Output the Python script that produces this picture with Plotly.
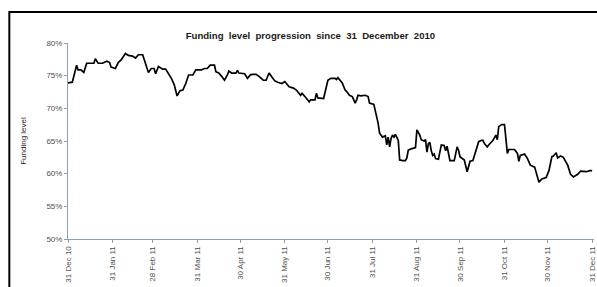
import datetime as dt
import plotly.graph_objects as go

# ---- data ----
start_date = dt.date(2010, 12, 31)
day_offsets = [
    0, 3, 6, 7, 9, 11, 13, 15, 18, 19, 21, 24, 27, 29, 30, 33, 35, 37, 40, 42,
    45, 47, 49, 52, 55, 56, 58, 60, 61, 63, 66, 68, 72, 74, 76, 78, 80, 82, 84, 87,
    89, 93, 95, 97, 99, 101, 102, 103, 105, 107, 109, 111, 112, 114, 117, 118, 119, 123, 125, 127,
    128, 131, 133, 136, 138, 140, 141, 144, 146, 149, 151, 154, 157, 159, 162, 163, 165, 168, 169, 172,
    173, 174, 178, 179, 181, 183, 186, 187, 188, 191, 193, 194, 196, 198, 200, 201, 202, 204, 207, 209,
    210, 213, 214, 216, 217, 219, 221, 222, 223, 224, 225, 226, 227, 228, 230, 231, 233, 235, 236, 237,
    239, 241, 242, 243, 245, 246, 248, 249, 250, 251, 252, 253, 254, 255, 256, 258, 259, 260, 262, 263,
    264, 266, 268, 269, 271, 272, 273, 276, 278, 280, 282, 284, 286, 288, 289, 290, 292, 293, 295, 296,
    298, 299, 300, 302, 304, 306, 307, 311, 313, 314, 315, 318, 320, 322, 325, 326, 328, 330, 333, 335,
    337, 338, 340, 341, 343, 345, 348, 350, 352, 355, 357, 361, 364, 365,
]
funding_level = [
    73.9, 74.0, 76.6, 75.9, 75.9, 75.5, 76.9, 76.9, 76.9, 77.6, 76.9, 76.9, 77.2, 77.0, 76.3, 76.1, 77.0, 77.4, 78.4, 78.1,
    78.0, 77.7, 78.2, 78.2, 75.9, 75.5, 76.1, 76.1, 75.3, 76.4, 76.0, 76.0, 74.6, 73.6, 71.9, 72.7, 72.8, 73.8, 75.1, 75.1,
    75.9, 75.9, 76.1, 76.1, 76.6, 76.6, 76.6, 75.6, 75.4, 74.9, 74.3, 75.1, 75.7, 75.4, 75.4, 75.8, 75.4, 75.3, 74.6, 75.1,
    75.2, 75.2, 74.9, 74.3, 74.3, 75.4, 75.1, 74.2, 74.0, 73.8, 74.1, 73.3, 73.1, 72.8, 72.0, 72.3, 71.8, 71.0, 71.3, 71.3,
    72.3, 71.6, 71.5, 72.6, 74.3, 74.6, 74.6, 74.4, 74.7, 73.9, 72.8, 72.6, 72.0, 71.8, 70.8, 71.3, 72.0, 71.9, 72.0, 71.8,
    70.8, 70.6, 69.7, 67.7, 66.2, 65.6, 65.8, 64.4, 65.6, 64.1, 65.4, 65.9, 65.6, 66.0, 65.1, 62.1, 62.0, 62.0, 62.4, 63.6,
    63.8, 63.9, 64.0, 66.7, 65.9, 65.2, 65.0, 65.2, 63.3, 64.6, 64.8, 63.5, 62.8, 63.0, 62.3, 62.2, 63.3, 64.4, 64.3, 63.5,
    64.2, 62.0, 62.0, 62.0, 64.1, 63.6, 62.6, 62.1, 60.3, 61.9, 62.0, 63.6, 64.9, 65.1, 65.1, 64.6, 64.1, 64.4, 64.9, 65.1,
    65.9, 65.2, 67.2, 67.5, 67.5, 63.1, 63.7, 63.7, 63.1, 61.9, 62.8, 63.0, 62.3, 61.3, 61.0, 60.3, 58.7, 59.2, 59.4, 60.5,
    62.6, 62.7, 63.2, 62.4, 62.7, 62.5, 61.3, 59.9, 59.5, 59.9, 60.4, 60.3, 60.5, 60.4,
]
tick_dates = ["2010-12-31", "2011-01-31", "2011-02-28", "2011-03-31", "2011-04-30", "2011-05-31",
              "2011-06-30", "2011-07-31", "2011-08-31", "2011-09-30", "2011-10-31", "2011-11-30", "2011-12-31"]
tick_labels = ["31 Dec 10", "31 Jan 11", "28 Feb 11", "31 Mar 11", "30 Apr 11", "31 May 11",
               "30 Jun 11", "31 Jul 11", "31 Aug 11", "30 Sep 11", "31 Oct 11", "30 Nov 11", "31 Dec 11"]
y_ticks = [50, 55, 60, 65, 70, 75, 80]
y_labels = ["50%", "55%", "60%", "65%", "70%", "75%", "80%"]
title_text = "Funding  level  progression  since  31  December  2010"

dates = [start_date + dt.timedelta(days=d) for d in day_offsets]
values = [v / 100 for v in funding_level]

fig = go.Figure()
fig.add_trace(go.Scatter(
    x=dates, y=values, mode="lines",
    line=dict(color="#000000", width=1.7),
    hoverinfo="skip", showlegend=False,
))

axis_color = "#8aa0bc"
font_family = "Liberation Sans, Arial, sans-serif"

fig.update_layout(
    width=597, height=287,
    margin=dict(l=68, r=0, t=43, b=48),
    paper_bgcolor="white", plot_bgcolor="white",
    font=dict(family=font_family, size=8, color="#505050"),
    title=dict(text="<b>" + title_text + "</b>", x=0.52, xanchor="center",
               y=1 - 36 / 287, yanchor="middle",
               font=dict(family=font_family, size=9.6, color="#1a1a1a")),
    xaxis=dict(
        type="date",
        range=["2010-12-31", "2012-01-01 08:00"],
        tickmode="array",
        tickvals=tick_dates, ticktext=tick_labels,
        tickangle=-90,
        ticklabeloverflow="allow",
        ticks="outside", ticklen=3, tickcolor=axis_color,
        showline=True, linecolor=axis_color, linewidth=1,
        showgrid=False, zeroline=False,
        tickfont=dict(size=8, color="#505050"),
    ),
    yaxis=dict(
        range=[0.5, 0.8],
        tickmode="array", tickvals=[v / 100 for v in y_ticks], ticktext=y_labels,
        ticks="outside", ticklen=3, tickcolor=axis_color,
        showline=True, linecolor=axis_color, linewidth=1,
        showgrid=False, zeroline=False,
        tickfont=dict(size=8, color="#505050"),
        title=dict(text="Funding level", font=dict(size=8, color="#3a2020"), standoff=18),
    ),
)

# black outer frame (left and top edges visible in the reference)
fig.add_shape(type="rect", xref="paper", yref="paper",
              x0=(9 - 68) / 529, x1=1.05,
              y0=-0.4, y1=(238.6 - 12) / 195.6,
              line=dict(color="#000000", width=2), fillcolor="rgba(0,0,0,0)", layer="above")

fig.write_html("out.html",
               config={"displayModeBar": False, "staticPlot": True},
               post_script="document.body.style.margin='0px';document.body.style.overflow='hidden';")
